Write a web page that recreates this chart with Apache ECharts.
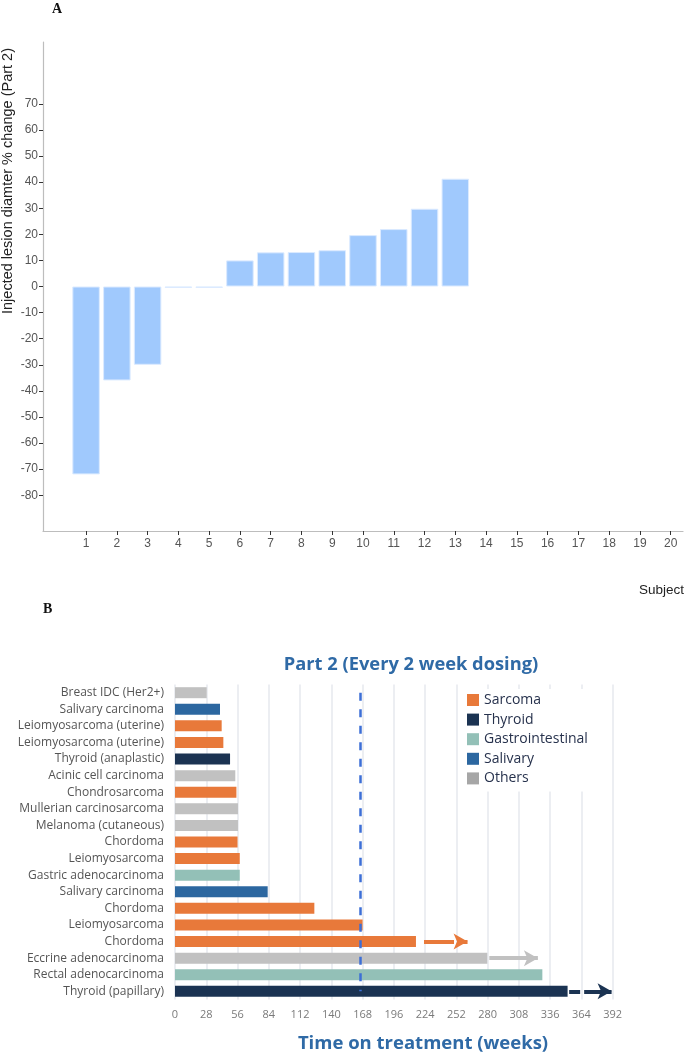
<!DOCTYPE html>
<html>
<head>
<meta charset="utf-8">
<script src="https://cdn.jsdelivr.net/npm/echarts@6/dist/echarts.min.js"></script>
<style>
html,body{margin:0;padding:0;background:#fff;}
#chart{width:685px;height:1053px;}
</style>
</head>
<body>
<div id="chart"></div>
<script>
// ---------- Panel A data ----------
const subjects = [1,2,3,4,5,6,7,8,9,10,11,12,13,14,15,16,17,18,19,20];
const changeValues = [-72, -36, -30, -0.5, -0.5, 10, 13.1, 13.2, 13.9, 19.7, 22, 29.8, 41.3];
const yTicksA = [-80,-70,-60,-50,-40,-30,-20,-10,0,10,20,30,40,50,60,70];

// ---------- Panel B data ----------
const tumours = [
  'Breast IDC (Her2+)', 'Salivary carcinoma', 'Leiomyosarcoma (uterine)', 'Leiomyosarcoma (uterine)',
  'Thyroid (anaplastic)', 'Acinic cell carcinoma', 'Chondrosarcoma', 'Mullerian carcinosarcoma',
  'Melanoma (cutaneous)', 'Chordoma', 'Leiomyosarcoma', 'Gastric adenocarcinoma',
  'Salivary carcinoma', 'Chordoma', 'Leiomyosarcoma', 'Chordoma',
  'Eccrine adenocarcinoma', 'Rectal adenocarcinoma', 'Thyroid (papillary)'
];
const weeks = [28.4, 40.3, 41.8, 43.3, 49.3, 54, 55, 56.4, 56.4, 56, 58, 58, 83, 124.8, 168, 215.8, 279.7, 329, 351.6];
const groups = ['Others','Salivary','Sarcoma','Sarcoma','Thyroid','Others','Sarcoma','Others','Others','Sarcoma',
  'Sarcoma','Gastrointestinal','Salivary','Sarcoma','Sarcoma','Sarcoma','Others','Gastrointestinal','Thyroid'];
const groupNames = ['Sarcoma','Thyroid','Gastrointestinal','Salivary','Others'];
const arrowRows = [15, 16, 18];
const arrowStart = [223, 281.5, 353];
const arrowEnd = [262, 325, 391];
const refWeek = 166;
const weekTicks = { min: 0, max: 392, step: 28 };
</script>
<script>
const chart = echarts.init(document.getElementById('chart'), null, {renderer: 'canvas'});

const groupColors = {
  Sarcoma: '#e8793a',
  Thyroid: '#1b3352',
  Gastrointestinal: '#93c0b7',
  Salivary: '#2c67a0',
  Others: '#c1c1c1'
};
const arrowStyles = [
  {color: '#e8793a', type: [30, 4]},
  {color: '#c1c1c1', type: 'solid'},
  {color: '#1b3352', type: [11, 4, 100]}
];

const blue = '#2f6aa6';
const fontB = 'Open Sans';

const seriesB = groupNames.map(g => ({
  name: g,
  type: 'bar',
  xAxisIndex: 1,
  yAxisIndex: 1,
  stack: 'all',
  barWidth: 11,
  itemStyle: {color: groupColors[g]},
  data: weeks.map((w, i) => groups[i] === g ? w : '-'),
  silent: true
}));

seriesB[0].markLine = {
  silent: true,
  animation: false,
  label: {show: false},
  symbol: ['none', 'arrow'],
  symbolSize: [12, 14],
  data: [
    ...arrowRows.map((r, k) => [
      {coord: [arrowStart[k], r], lineStyle: {color: arrowStyles[k].color, width: 4, type: arrowStyles[k].type}},
      {coord: [arrowEnd[k], r]}
    ]),
    [
      {coord: [refWeek, 0], symbol: 'none', lineStyle: {color: '#3d6fd6', width: 2.5, type: [8, 8.5]}},
      {coord: [refWeek, tumours.length - 1], symbol: 'none'}
    ]
  ]
};

const option = {
  animation: false,
  backgroundColor: '#fff',
  textStyle: {fontFamily: 'Liberation Sans'},
  grid: [
    {left: 43, top: 42, width: 640, height: 489, containLabel: false},
    {left: 175, top: 684.4, width: 437.7, height: 315.2, containLabel: false}
  ],
  legend: {
    data: groupNames.map(g => g === 'Others' ? {name: g, itemStyle: {color: '#a6a6a6'}} : g),
    orient: 'vertical',
    left: 462,
    top: 689,
    itemWidth: 12,
    itemHeight: 12,
    itemGap: 5.6,
    icon: 'rect',
    backgroundColor: '#fff',
    padding: [4, 24, 6, 5],
    textStyle: {fontFamily: fontB, fontSize: 14, color: '#27324d', fontWeight: 500},
    selectedMode: false
  },
  xAxis: [
    {
      gridIndex: 0,
      type: 'value',
      min: -0.4,
      max: 20.4,
      axisLine: {show: true, onZero: false, lineStyle: {color: '#bdbdbd', width: 1.2}},
      axisTick: {show: true, length: 4, lineStyle: {color: '#333'}, customValues: subjects},
      axisLabel: {color: '#555', fontSize: 12, margin: 7, customValues: subjects},
      splitLine: {show: false}
    },
    {
      gridIndex: 1,
      type: 'value',
      min: weekTicks.min,
      max: weekTicks.max,
      interval: weekTicks.step,
      axisLine: {show: false},
      axisTick: {show: false},
      axisLabel: {color: '#7a7a7a', fontSize: 11, fontFamily: fontB, margin: 10},
      splitLine: {show: true, lineStyle: {color: '#e6e8ee', width: 1.5}}
    }
  ],
  yAxis: [
    {
      gridIndex: 0,
      type: 'value',
      min: -93.7,
      max: 93.7,
      axisLine: {show: true, onZero: false, lineStyle: {color: '#bdbdbd', width: 1.2}},
      axisTick: {show: true, length: 4, lineStyle: {color: '#333'}, customValues: yTicksA},
      axisLabel: {color: '#555', fontSize: 12, margin: 5, customValues: yTicksA},
      splitLine: {show: false}
    },
    {
      gridIndex: 1,
      type: 'category',
      inverse: true,
      data: tumours,
      axisLine: {show: false},
      axisTick: {show: false},
      axisLabel: {color: '#555', fontSize: 12, fontFamily: fontB, margin: 11, interval: 0},
      splitLine: {show: false}
    }
  ],
  title: [
    {
      text: 'Part 2 (Every 2 week dosing)',
      left: 406, top: 651, textAlign: 'center',
      textStyle: {color: blue, fontSize: 18.3, fontWeight: 'bold', fontFamily: fontB}
    },
    {
      text: 'Time on treatment (weeks)',
      left: 418, top: 1029, textAlign: 'center',
      textStyle: {color: blue, fontSize: 18.5, fontWeight: 'bold', fontFamily: fontB}
    }
  ],
  graphic: [
    {type: 'text', left: 52, top: 2, style: {text: 'A', font: 'bold 14px "Liberation Serif"', fill: '#111'}},
    {type: 'text', left: 43, top: 602, style: {text: 'B', font: 'bold 14px "Liberation Serif"', fill: '#111'}},
    {type: 'text', x: 8, y: 181, rotation: Math.PI / 2,
      style: {text: 'Injected lesion diamter % change (Part 2)', font: '14.5px "Liberation Sans"', fill: '#222',
        align: 'center', verticalAlign: 'middle'}},
    {type: 'text', right: 1, top: 583, style: {text: 'Subject', font: '13.5px "Liberation Sans"', fill: '#222'}}
  ],
  series: [
    {
      type: 'bar',
      xAxisIndex: 0,
      yAxisIndex: 0,
      barWidth: 27.5,
      itemStyle: {color: '#a0c9fd', borderColor: '#dbeaff', borderWidth: 1},
      data: changeValues.map((v, i) => [subjects[i], v]),
      silent: true
    },
    ...seriesB
  ]
};
chart.setOption(option);
</script>
</body>
</html>
